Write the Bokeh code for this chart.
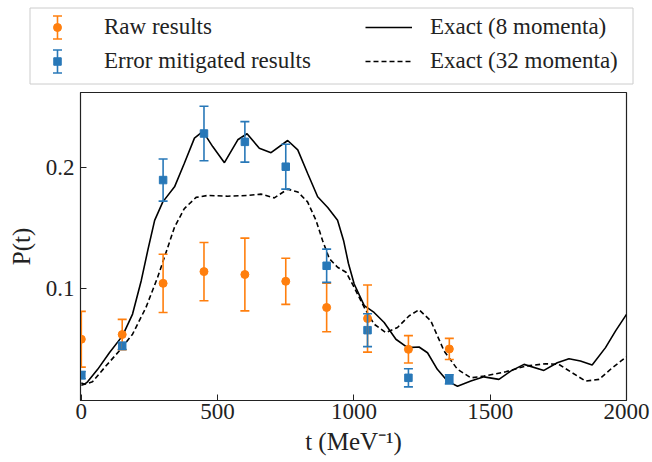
import numpy as np
from bokeh.plotting import figure
from bokeh.models import (ColumnDataSource, Whisker, TeeHead, Legend, LegendItem,
                          FixedTicker, Range1d)
from bokeh.embed import file_html
from bokeh.resources import INLINE

# ---------------- data ----------------
t_pts = [0, 150, 300, 450, 600, 750, 900, 1050, 1200, 1350]
raw_y = [0.0585, 0.0624, 0.1046, 0.1143, 0.1119, 0.1063, 0.0847, 0.0756, 0.0502, 0.0505]
raw_err = [0.023, 0.0125, 0.024, 0.024, 0.030, 0.019, 0.020, 0.0277, 0.0113, 0.0087]
mit_y = [0.0289, 0.053, 0.1898, 0.2282, 0.2213, 0.2008, 0.1191, 0.066, 0.0267, 0.0254]
mit_err = [0.003, 0.003, 0.0174, 0.0225, 0.0167, 0.0185, 0.0137, 0.0136, 0.0075, 0.0037]

exact8_t = [0, 12, 23, 60, 103, 151, 188, 220, 244, 269, 299, 342, 378, 415, 446, 482,
            525, 574, 608, 653, 696, 757, 794, 830, 867, 904, 940, 962, 980, 1001, 1038,
            1074, 1111, 1154, 1197, 1239, 1270, 1306, 1343, 1380, 1429, 1477, 1532, 1575,
            1624, 1697, 1746, 1789, 1831, 1874, 1923, 1960, 2000]
exact8_y = [0.0225, 0.0215, 0.0234, 0.0337, 0.0474, 0.0613, 0.0793, 0.107, 0.132, 0.1566,
            0.1718, 0.1842, 0.2036, 0.2244, 0.2299, 0.2174, 0.2041, 0.223, 0.228, 0.2161,
            0.2124, 0.2224, 0.2147, 0.1954, 0.176, 0.1672, 0.1566, 0.14, 0.121, 0.1041,
            0.0862, 0.0806, 0.0723, 0.0585, 0.0516, 0.0521, 0.0474, 0.0337, 0.024, 0.0198,
            0.024, 0.0275, 0.0254, 0.0322, 0.0378, 0.0328, 0.0391, 0.0424, 0.0405, 0.0372,
            0.0516, 0.0654, 0.079]

exact32_t = [0, 41, 90, 139, 188, 237, 280, 305, 342, 378, 421, 464, 537, 611, 659, 708,
             757, 794, 830, 861, 885, 910, 940, 971, 1001, 1038, 1074, 1117, 1160, 1203,
             1239, 1282, 1331, 1380, 1429, 1477, 1557, 1630, 1703, 1752, 1801, 1850, 1899,
             1948, 2000]
exact32_y = [0.0205, 0.0234, 0.0364, 0.0488, 0.0627, 0.0847, 0.1096, 0.1262, 0.151, 0.1663,
             0.1755, 0.1771, 0.1765, 0.1771, 0.1782, 0.1751, 0.1823, 0.18, 0.1718, 0.1566,
             0.14, 0.1249, 0.1179, 0.1138, 0.1013, 0.0847, 0.071, 0.064, 0.0682, 0.0779,
             0.0828, 0.0737, 0.0488, 0.0337, 0.0267, 0.0281, 0.0317, 0.0364, 0.0383, 0.0378,
             0.0308, 0.024, 0.0254, 0.035, 0.044]

x_ticks = [0, 500, 1000, 1500, 2000]
y_ticks = [0.1, 0.2]

ORANGE = "#ff7f0e"
BLUE = "#2878b8"
TXT = "#222222"
FONT = "Liberation Serif"

# ---------------- main figure ----------------
p = figure(frame_width=546, frame_height=308, output_backend="svg", toolbar_location=None,
           x_range=Range1d(-3, 2000), y_range=Range1d(0.008, 0.262),
           min_border_left=80, min_border_right=26, min_border_top=1, min_border_bottom=62)
p.grid.visible = False
p.outline_line_color = TXT
p.outline_line_width = 1.2

p.line(exact8_t, exact8_y, line_color="black", line_width=1.6)
p.line(exact32_t, exact32_y, line_color="black", line_width=1.6, line_dash="5 3")

raw_src = ColumnDataSource(dict(t=t_pts, y=raw_y,
                                lo=[a - b for a, b in zip(raw_y, raw_err)],
                                hi=[a + b for a, b in zip(raw_y, raw_err)]))
mit_src = ColumnDataSource(dict(t=t_pts, y=mit_y,
                                lo=[a - b for a, b in zip(mit_y, mit_err)],
                                hi=[a + b for a, b in zip(mit_y, mit_err)]))


def add_errorbars(fig, src, col):
    w = Whisker(source=src, base="t", lower="lo", upper="hi", dimension="height",
                line_color=col, line_width=1.6, level="glyph",
                upper_head=TeeHead(size=9, line_color=col, line_width=1.6),
                lower_head=TeeHead(size=9, line_color=col, line_width=1.6))
    fig.add_layout(w)


add_errorbars(p, raw_src, ORANGE)
add_errorbars(p, mit_src, BLUE)

p.scatter("t", "y", source=raw_src, marker="circle", size=8,
          fill_color=ORANGE, line_color=ORANGE)
p.scatter("t", "y", source=mit_src, marker="square", size=7.5,
          fill_color=BLUE, line_color=BLUE)

for ax in (p.xaxis[0], p.yaxis[0]):
    ax.major_label_text_font = FONT
    ax.major_label_text_font_size = "23px"
    ax.major_label_text_color = TXT
    ax.axis_label_text_font = FONT
    ax.axis_label_text_font_size = "25px"
    ax.axis_label_text_font_style = "normal"
    ax.axis_label_text_color = TXT
    ax.major_tick_in = 6
    ax.major_tick_out = 0
    ax.minor_tick_in = 0
    ax.minor_tick_out = 0
    ax.axis_line_color = TXT
    ax.major_tick_line_color = TXT

p.xaxis.ticker = FixedTicker(ticks=x_ticks)
p.yaxis.ticker = FixedTicker(ticks=y_ticks)
p.xaxis.axis_label = "t (MeV⁻¹)"
p.yaxis.axis_label = "P(t)"
p.xaxis.major_label_standoff = 3
p.yaxis.major_label_standoff = 6
p.xaxis.axis_label_standoff = 6
p.yaxis.axis_label_standoff = 8

# ---------------- legend strip (its own root, screen-pixel coordinates, y up) ----------------
LW, LH = 652, 91
lg = figure(width=LW, height=LH, output_backend="svg", toolbar_location=None,
            x_range=Range1d(0, LW), y_range=Range1d(0, LH),
            x_axis_location=None, y_axis_location=None,
            min_border_left=0, min_border_right=0, min_border_top=0, min_border_bottom=0)
lg.grid.visible = False
lg.outline_line_color = None

# legend frame box
lg.quad(left=[29.5], right=[632.5], bottom=[LH - 83.5], top=[LH - 7.5],
        fill_color="white", line_color="#cccccc", line_width=1)

# legend layout constants
LEG_Y = 16          # bottom of legend items
ITEM_H = 28         # glyph height
GAP = 6             # spacing between items
L1_X, L1_GW = 37, 40
L2_X, L2_GW = 365, 47
row_top = LEG_Y + ITEM_H + GAP + ITEM_H / 2   # centre of first row
row_bot = LEG_Y + ITEM_H / 2                  # centre of second row
gx = L1_X + L1_GW / 2

# error-bar handles for the first legend column
hs_raw = ColumnDataSource(dict(t=[gx], y=[row_top], lo=[row_top - 11.5], hi=[row_top + 11.5]))
hs_mit = ColumnDataSource(dict(t=[gx], y=[row_bot], lo=[row_bot - 11.5], hi=[row_bot + 11.5]))
add_errorbars(lg, hs_raw, ORANGE)
add_errorbars(lg, hs_mit, BLUE)
lg.scatter("t", "y", source=hs_raw, marker="circle", size=8, fill_color=ORANGE, line_color=ORANGE)
lg.scatter("t", "y", source=hs_mit, marker="square", size=7.5, fill_color=BLUE, line_color=BLUE)

# proxy renderers outside the visible range (line handles for the legend)
far = ColumnDataSource(dict(x=[-1000, -1001], y=[-1000, -1001]))
ghost = lg.scatter("x", "y", source=far, marker="circle", size=1, fill_alpha=0, line_alpha=0)
l8 = lg.line("x", "y", source=far, line_color="black", line_width=1.6)
l32 = lg.line("x", "y", source=far, line_color="black", line_width=1.6, line_dash="5 3")


def make_legend(items, x, standoff, gw):
    leg = Legend(items=items, location=(x, LEG_Y))
    leg.label_text_font = FONT
    leg.label_text_font_size = "23px"
    leg.label_text_color = TXT
    leg.glyph_width = gw
    leg.glyph_height = ITEM_H
    leg.label_standoff = standoff
    leg.spacing = GAP
    leg.padding = 0
    leg.margin = 0
    leg.border_line_color = None
    leg.background_fill_alpha = 0
    return leg


leg1 = make_legend([LegendItem(label="Raw results", renderers=[ghost]),
                    LegendItem(label="Error mitigated results", renderers=[ghost])],
                   L1_X, 27, L1_GW)
leg2 = make_legend([LegendItem(label="Exact (8 momenta)", renderers=[l8]),
                    LegendItem(label="Exact (32 momenta)", renderers=[l32])],
                   L2_X, 18, L2_GW)
lg.add_layout(leg1, "center")
lg.add_layout(leg2, "center")

open("out.html", "w").write(file_html([lg, p], INLINE))
